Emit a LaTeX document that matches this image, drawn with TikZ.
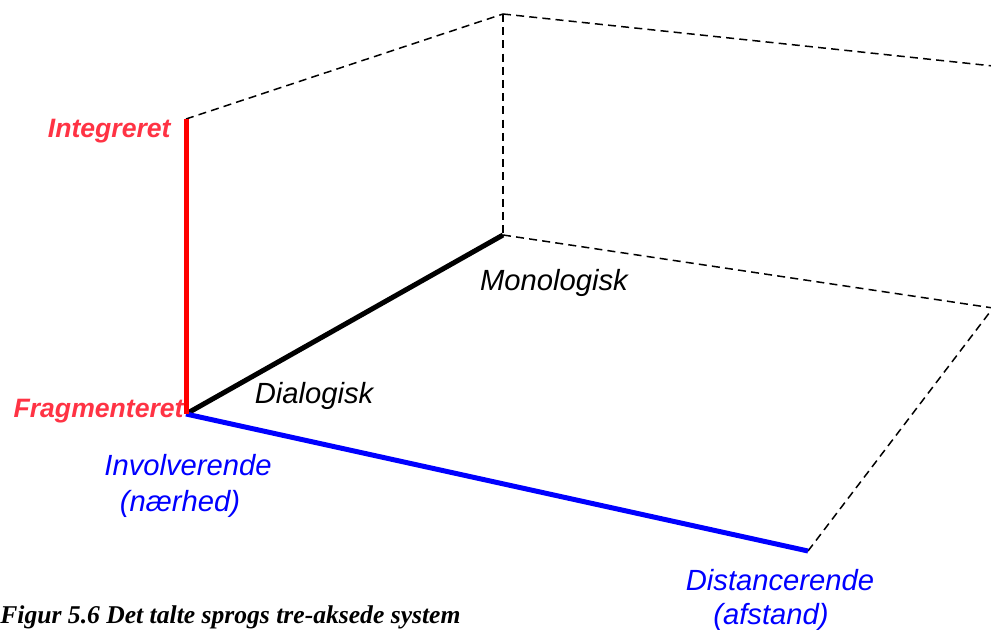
\documentclass[tikz,border=0pt]{standalone}
\usepackage{fontspec}
\setmainfont{Liberation Serif}
\setsansfont{Liberation Sans}
\usetikzlibrary{positioning}
\definecolor{axisred}{RGB}{255,0,0}
\definecolor{labelred}{RGB}{255,51,68}
\definecolor{axisblue}{RGB}{0,0,255}

\begin{document}
\begin{tikzpicture}[x=0.5pt,y=-0.5pt]
  \tikzstyle{axis}=[line width=2.5pt]
  \tikzstyle{edge}=[black,line width=0.75pt,dash pattern=on 4pt off 2.6pt]
  \tikzstyle{pole}=[inner sep=0pt,font=\sffamily\itshape\fontsize{14.6}{16}\selectfont]
  \tikzstyle{redpole}=[inner sep=0pt,text=labelred,font=\sffamily\bfseries\itshape\fontsize{13.3}{15}\selectfont]
  \tikzstyle{bluepole}=[pole,text=axisblue,align=center,font=\sffamily\itshape\fontsize{14.6}{16}\selectfont]

  \useasboundingbox (0,0) rectangle (991,630);
  \clip (0,0) rectangle (991,630);

  % -- corners of the box --
  \coordinate (o) at (186,414);
  \coordinate (top) at (186,119);
  \coordinate (mono) at (503,235);
  \coordinate (dist) at (808,551);
  \coordinate (backtop) at (503,14);
  \coordinate (farbot) at (993,308);
  \coordinate (fartop) at (993,66);

  % -- hidden edges --
  \draw[edge] (top) -- (backtop);
  \draw[edge] (backtop) -- (mono);
  \draw[edge] (backtop) -- (fartop);
  \draw[edge] (mono) -- (farbot);
  \draw[edge] (dist) -- (farbot);

  % -- the three axes --
  \draw[axis,black] (o) -- (mono);
  \draw[axis,axisblue] (o) -- (dist);
  \draw[axis,axisred] (o) -- (top);

  % -- pole labels --
  \node[redpole,anchor=east] (integ) at (171,131) {Integreret};
  \node[redpole,anchor=east] (frag) at (184,411) {Fragmenteret};
  \node[pole] (dialog) at (314,396) {Dialogisk};
  \node[pole] (monolog) at (554,283) {Monologisk};
  \node[bluepole] (invol) at (188,486) {Involverende\\[2pt](nærhed)\hspace*{8pt}};
  \node[bluepole] (distan) at (780,600) {Distancerende\\[1pt](afstand)\hspace*{9pt}};

  % -- caption --
  \node[inner sep=0pt,anchor=base west,font=\bfseries\itshape\fontsize{12.8}{14}\selectfont]
    (caption) at (0,624) {Figur 5.6 Det talte sprogs tre-aksede system};
\end{tikzpicture}
\end{document}
